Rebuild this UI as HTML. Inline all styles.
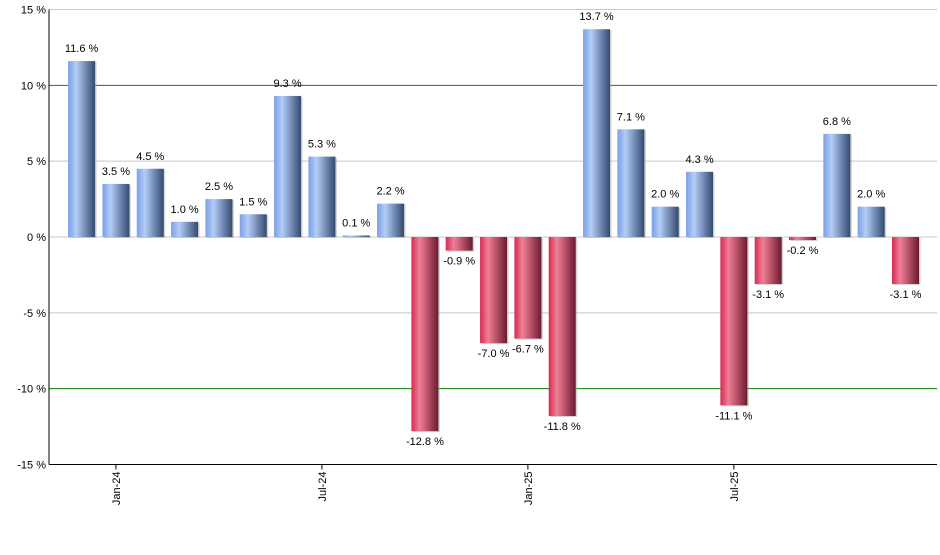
<!DOCTYPE html>
<html><head><meta charset="utf-8"><style>
body{margin:0;background:#fff;}
svg text{font-family:"Liberation Sans",sans-serif;font-size:11px;fill:#000;}
</style></head><body>
<svg id="chart" width="940" height="550" xmlns="http://www.w3.org/2000/svg">
<defs>
<linearGradient id="gb" x1="0" x2="1" y1="0" y2="0">
<stop offset="0" stop-color="#7c9fe6"/><stop offset="0.3" stop-color="#b2cdf8"/><stop offset="1" stop-color="#33496f"/></linearGradient>
<linearGradient id="gr" x1="0" x2="1" y1="0" y2="0">
<stop offset="0" stop-color="#d62a52"/><stop offset="0.3" stop-color="#f07f95"/><stop offset="1" stop-color="#6c1a30"/></linearGradient>
</defs>
<g id="grid"></g><g id="bars"></g><g id="axes"></g>
</svg>
<script>
const months = ["Dec-23","Jan-24","Feb-24","Mar-24","Apr-24","May-24","Jun-24","Jul-24","Aug-24","Sep-24","Oct-24","Nov-24","Dec-24","Jan-25","Feb-25","Mar-25","Apr-25","May-25","Jun-25","Jul-25","Aug-25","Sep-25","Oct-25","Nov-25","Dec-25"];
const values = [11.6,3.5,4.5,1.0,2.5,1.5,9.3,5.3,0.1,2.2,-12.8,-0.9,-7.0,-6.7,-11.8,13.7,7.1,2.0,4.3,-11.1,-3.1,-0.2,6.8,2.0,-3.1];
const yTicks = [15,10,5,0,-5,-10,-15];
const xLabels = ["Jan-24","Jul-24","Jan-25","Jul-25"];
const NS="http://www.w3.org/2000/svg";
const x0=49, x1=937, yTop=9.5, yBot=464.5;
const y = v => yTop + (15 - v) * (yBot - yTop) / 30;
const step = 34.33, first = 81.6, bw = 27;
const xc = i => first + i * step;
function mk(tag, attrs, parent){const e=document.createElementNS(NS,tag);for(const k in attrs)e.setAttribute(k,attrs[k]);parent.appendChild(e);return e;}
const grid=document.getElementById('grid'), bars=document.getElementById('bars'), axes=document.getElementById('axes');
yTicks.forEach(t=>{
  const col = t===10 ? '#2f6a2f' : (t===-10 ? '#008000' : '#c8c8c8');
  const ln = mk('line',{x1:x0,x2:x1,y1:y(t),y2:y(t),stroke:col,'stroke-width':1},grid);
  
  
  const tx = mk('text',{x:x0-3,y:y(t)+4,'text-anchor':'end'},axes);
  tx.textContent = t+' %';
  
  
});
values.forEach((v,i)=>{
  const cx=xc(i), top=Math.min(y(v),y(0)), h=Math.max(Math.abs(y(v)-y(0)),1);
  mk('rect',{x:cx-bw/2+1.5,y:top+1,width:bw,height:h,fill:'#aaa',opacity:0.5},bars);
  const r = mk('rect',{x:cx-bw/2,y:top,width:bw,height:h,fill:v>=0?'url(#gb)':'url(#gr)'},bars);
  
  
  const ly = v>=0 ? y(v)-9 : y(v)+14;
  const t = mk('text',{x:cx,y:ly,'text-anchor':'middle'},bars);
  t.textContent = v.toFixed(1)+' %';
  
  
});
const ya = mk('line',{x1:x0,x2:x0,y1:yTop,y2:yBot,stroke:'#000'},axes);


const xa = mk('line',{x1:x0,x2:x1,y1:yBot,y2:yBot,stroke:'#000'},axes);


xLabels.forEach(l=>{
  const i = months.indexOf(l), cx=xc(i);
  mk('line',{x1:cx,x2:cx,y1:yBot,y2:yBot+5,stroke:'#000'},axes);
  const t = mk('text',{x:0,y:0,'text-anchor':'end',transform:`translate(${cx+4},${yBot+7}) rotate(-90)`},axes);
  t.textContent=l;
  
  
});
</script>
</body></html>
